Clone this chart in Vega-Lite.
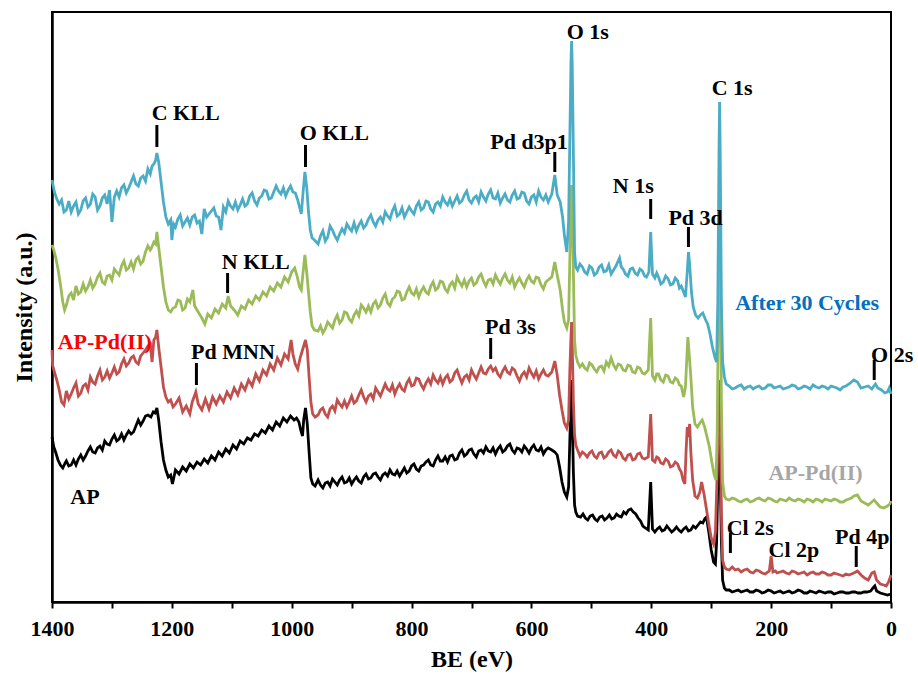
{
"$schema": "https://vega.github.io/schema/vega-lite/v6.json",
"width": 839, "height": 590,
"autosize": {"type": "none"},
"padding": {"left": 52, "top": 12, "right": 27, "bottom": 78},
"background": "white",
"config": {"view": {"stroke": "black", "strokeWidth": 2}, "font": "Liberation Serif"},
"datasets": {
"B": [{"e":1400,"v":422},{"e":1396,"v":410},{"e":1392,"v":403},{"e":1388,"v":398},{"e":1384,"v":402},{"e":1380,"v":390},{"e":1376,"v":392},{"e":1372,"v":401},{"e":1368,"v":390},{"e":1364,"v":396},{"e":1360,"v":400},{"e":1356,"v":388},{"e":1352,"v":392},{"e":1348,"v":401},{"e":1344,"v":404},{"e":1340,"v":395},{"e":1336,"v":398},{"e":1332,"v":408},{"e":1328,"v":405},{"e":1324,"v":392},{"e":1320,"v":396},{"e":1316,"v":404},{"e":1312,"v":407},{"e":1308,"v":398},{"e":1304,"v":412},{"e":1300,"v":380},{"e":1296,"v":405},{"e":1292,"v":411},{"e":1288,"v":405},{"e":1284,"v":414},{"e":1280,"v":417},{"e":1276,"v":409},{"e":1272,"v":414},{"e":1268,"v":420},{"e":1264,"v":426},{"e":1260,"v":418},{"e":1256,"v":416},{"e":1252,"v":424},{"e":1248,"v":426},{"e":1244,"v":421},{"e":1240,"v":433},{"e":1236,"v":428},{"e":1233,"v":436},{"e":1230,"v":438},{"e":1227,"v":442},{"e":1225,"v":449},{"e":1222,"v":440},{"e":1218,"v":420},{"e":1214,"v":400},{"e":1210,"v":385},{"e":1206,"v":378},{"e":1202,"v":382},{"e":1200,"v":362},{"e":1197,"v":378},{"e":1194,"v":375},{"e":1190,"v":383},{"e":1186,"v":387},{"e":1182,"v":376},{"e":1178,"v":380},{"e":1174,"v":384},{"e":1170,"v":377},{"e":1166,"v":385},{"e":1162,"v":387},{"e":1158,"v":379},{"e":1154,"v":381},{"e":1150,"v":368},{"e":1146,"v":393},{"e":1142,"v":385},{"e":1138,"v":388},{"e":1134,"v":391},{"e":1130,"v":394},{"e":1126,"v":386},{"e":1122,"v":385},{"e":1118,"v":372},{"e":1114,"v":395},{"e":1110,"v":390},{"e":1106,"v":401},{"e":1102,"v":396},{"e":1098,"v":393},{"e":1094,"v":400},{"e":1090,"v":392},{"e":1086,"v":397},{"e":1082,"v":403},{"e":1078,"v":396},{"e":1074,"v":398},{"e":1070,"v":406},{"e":1066,"v":409},{"e":1062,"v":401},{"e":1058,"v":397},{"e":1054,"v":404},{"e":1050,"v":406},{"e":1046,"v":412},{"e":1042,"v":411},{"e":1038,"v":403},{"e":1034,"v":404},{"e":1030,"v":410},{"e":1026,"v":416},{"e":1022,"v":411},{"e":1018,"v":408},{"e":1014,"v":414},{"e":1010,"v":406},{"e":1006,"v":412},{"e":1002,"v":416},{"e":998,"v":410},{"e":994,"v":409},{"e":990,"v":402},{"e":987,"v":395},{"e":984,"v":388},{"e":981,"v":410},{"e":978,"v":430},{"e":975,"v":415},{"e":972,"v":390},{"e":969,"v":372},{"e":966,"v":364},{"e":962,"v":362},{"e":956,"v":358},{"e":952,"v":366},{"e":948,"v":371},{"e":944,"v":361},{"e":940,"v":365},{"e":936,"v":376},{"e":932,"v":372},{"e":928,"v":366},{"e":924,"v":362},{"e":920,"v":368},{"e":916,"v":373},{"e":912,"v":369},{"e":908,"v":378},{"e":904,"v":374},{"e":900,"v":371},{"e":896,"v":379},{"e":892,"v":371},{"e":888,"v":377},{"e":884,"v":381},{"e":880,"v":374},{"e":876,"v":377},{"e":872,"v":383},{"e":868,"v":387},{"e":864,"v":380},{"e":860,"v":376},{"e":856,"v":382},{"e":852,"v":385},{"e":848,"v":380},{"e":844,"v":390},{"e":840,"v":386},{"e":836,"v":383},{"e":832,"v":391},{"e":828,"v":396},{"e":824,"v":386},{"e":820,"v":388},{"e":816,"v":394},{"e":812,"v":385},{"e":808,"v":390},{"e":804,"v":395},{"e":800,"v":391},{"e":796,"v":388},{"e":792,"v":396},{"e":788,"v":400},{"e":784,"v":392},{"e":780,"v":394},{"e":776,"v":401},{"e":772,"v":400},{"e":768,"v":393},{"e":764,"v":390},{"e":760,"v":398},{"e":756,"v":400},{"e":752,"v":396},{"e":748,"v":405},{"e":744,"v":400},{"e":740,"v":397},{"e":736,"v":403},{"e":732,"v":396},{"e":728,"v":401},{"e":724,"v":406},{"e":720,"v":399},{"e":716,"v":401},{"e":712,"v":407},{"e":708,"v":411},{"e":704,"v":402},{"e":700,"v":399},{"e":696,"v":404},{"e":692,"v":406},{"e":688,"v":400},{"e":684,"v":410},{"e":680,"v":405},{"e":676,"v":401},{"e":672,"v":408},{"e":668,"v":412},{"e":664,"v":404},{"e":660,"v":403},{"e":656,"v":409},{"e":652,"v":399},{"e":648,"v":404},{"e":644,"v":408},{"e":640,"v":402},{"e":636,"v":400},{"e":632,"v":407},{"e":628,"v":411},{"e":624,"v":403},{"e":620,"v":404},{"e":616,"v":410},{"e":612,"v":409},{"e":608,"v":401},{"e":604,"v":398},{"e":600,"v":405},{"e":596,"v":407},{"e":592,"v":400},{"e":588,"v":411},{"e":584,"v":405},{"e":580,"v":402},{"e":576,"v":407},{"e":572,"v":400},{"e":566,"v":408},{"e":561,"v":427},{"e":557,"v":407},{"e":552,"v":400},{"e":548,"v":385},{"e":545,"v":367},{"e":541,"v":350},{"e":538,"v":380},{"e":536,"v":460},{"e":534,"v":540},{"e":533,"v":561},{"e":532,"v":540},{"e":530,"v":450},{"e":528,"v":350},{"e":526,"v":335},{"e":523,"v":332},{"e":519,"v":338},{"e":515,"v":335},{"e":511,"v":330},{"e":507,"v":328},{"e":503,"v":336},{"e":499,"v":334},{"e":495,"v":327},{"e":491,"v":329},{"e":487,"v":335},{"e":483,"v":337},{"e":479,"v":330},{"e":475,"v":331},{"e":471,"v":337},{"e":467,"v":328},{"e":463,"v":332},{"e":459,"v":336},{"e":453,"v":344},{"e":450,"v":335},{"e":447,"v":333},{"e":443,"v":328},{"e":439,"v":326},{"e":435,"v":333},{"e":431,"v":334},{"e":427,"v":329},{"e":423,"v":327},{"e":419,"v":333},{"e":415,"v":331},{"e":411,"v":326},{"e":408,"v":325},{"e":404,"v":330},{"e":401,"v":370},{"e":398,"v":328},{"e":394,"v":324},{"e":391,"v":329},{"e":388,"v":325},{"e":384,"v":318},{"e":380,"v":320},{"e":376,"v":326},{"e":372,"v":323},{"e":368,"v":317},{"e":364,"v":318},{"e":360,"v":324},{"e":356,"v":321},{"e":353,"v":314},{"e":350,"v":316},{"e":346,"v":310},{"e":343,"v":305},{"e":340,"v":330},{"e":338,"v":350},{"e":336,"v":338},{"e":333,"v":310},{"e":330,"v":295},{"e":326,"v":287},{"e":322,"v":284},{"e":318,"v":287},{"e":314,"v":289},{"e":310,"v":283},{"e":306,"v":278},{"e":302,"v":268},{"e":298,"v":255},{"e":294,"v":245},{"e":291,"v":240},{"e":289,"v":300},{"e":287,"v":450},{"e":286,"v":500},{"e":285,"v":450},{"e":283,"v":300},{"e":281,"v":240},{"e":278,"v":225},{"e":275,"v":218},{"e":270,"v":216},{"e":265,"v":213},{"e":260,"v":214},{"e":255,"v":216},{"e":250,"v":217},{"e":245,"v":213},{"e":240,"v":215},{"e":235,"v":216},{"e":230,"v":213},{"e":225,"v":215},{"e":220,"v":216},{"e":215,"v":213},{"e":210,"v":214},{"e":205,"v":217},{"e":200,"v":217},{"e":195,"v":214},{"e":190,"v":215},{"e":185,"v":216},{"e":180,"v":213},{"e":175,"v":214},{"e":170,"v":215},{"e":165,"v":217},{"e":160,"v":216},{"e":155,"v":213},{"e":150,"v":214},{"e":145,"v":216},{"e":140,"v":215},{"e":135,"v":213},{"e":130,"v":217},{"e":125,"v":215},{"e":120,"v":214},{"e":115,"v":216},{"e":110,"v":215},{"e":105,"v":213},{"e":100,"v":216},{"e":95,"v":215},{"e":90,"v":214},{"e":85,"v":212},{"e":80,"v":215},{"e":75,"v":216},{"e":70,"v":218},{"e":66,"v":220},{"e":62,"v":222},{"e":56,"v":220},{"e":50,"v":214},{"e":44,"v":215},{"e":38,"v":216},{"e":32,"v":213},{"e":26,"v":218},{"e":22,"v":214},{"e":16,"v":212},{"e":10,"v":209},{"e":6,"v":210},{"e":3,"v":214},{"e":0,"v":208}],
"G": [{"e":1400,"v":357},{"e":1397,"v":352},{"e":1394,"v":345},{"e":1390,"v":333},{"e":1386,"v":318},{"e":1382,"v":300},{"e":1379,"v":292},{"e":1376,"v":297},{"e":1372,"v":306},{"e":1368,"v":309},{"e":1364,"v":302},{"e":1360,"v":316},{"e":1356,"v":308},{"e":1352,"v":310},{"e":1348,"v":318},{"e":1344,"v":311},{"e":1340,"v":315},{"e":1336,"v":322},{"e":1332,"v":314},{"e":1328,"v":318},{"e":1324,"v":325},{"e":1320,"v":329},{"e":1316,"v":320},{"e":1312,"v":318},{"e":1308,"v":326},{"e":1304,"v":327},{"e":1300,"v":322},{"e":1296,"v":333},{"e":1292,"v":330},{"e":1288,"v":327},{"e":1284,"v":336},{"e":1280,"v":341},{"e":1276,"v":332},{"e":1272,"v":334},{"e":1268,"v":340},{"e":1264,"v":333},{"e":1260,"v":342},{"e":1256,"v":345},{"e":1252,"v":338},{"e":1248,"v":341},{"e":1244,"v":350},{"e":1240,"v":356},{"e":1236,"v":352},{"e":1234,"v":354},{"e":1230,"v":360},{"e":1227,"v":358},{"e":1225,"v":370},{"e":1222,"v":355},{"e":1218,"v":335},{"e":1214,"v":315},{"e":1210,"v":300},{"e":1206,"v":292},{"e":1202,"v":290},{"e":1198,"v":294},{"e":1194,"v":295},{"e":1190,"v":302},{"e":1186,"v":301},{"e":1182,"v":292},{"e":1178,"v":294},{"e":1174,"v":303},{"e":1170,"v":300},{"e":1165,"v":312},{"e":1162,"v":296},{"e":1156,"v":290},{"e":1150,"v":284},{"e":1145,"v":278},{"e":1140,"v":288},{"e":1134,"v":284},{"e":1128,"v":293},{"e":1122,"v":289},{"e":1116,"v":298},{"e":1110,"v":294},{"e":1106,"v":306},{"e":1102,"v":296},{"e":1096,"v":292},{"e":1090,"v":287},{"e":1084,"v":296},{"e":1078,"v":293},{"e":1072,"v":302},{"e":1066,"v":298},{"e":1060,"v":306},{"e":1054,"v":302},{"e":1048,"v":310},{"e":1042,"v":306},{"e":1036,"v":315},{"e":1030,"v":311},{"e":1024,"v":319},{"e":1018,"v":315},{"e":1012,"v":325},{"e":1006,"v":320},{"e":1000,"v":330},{"e":995,"v":334},{"e":991,"v":326},{"e":987,"v":315},{"e":984,"v":312},{"e":981,"v":330},{"e":978,"v":347},{"e":975,"v":330},{"e":972,"v":310},{"e":969,"v":290},{"e":966,"v":276},{"e":962,"v":272},{"e":956,"v":271},{"e":952,"v":276},{"e":948,"v":269},{"e":944,"v":273},{"e":940,"v":280},{"e":936,"v":277},{"e":932,"v":274},{"e":928,"v":282},{"e":924,"v":287},{"e":920,"v":279},{"e":916,"v":282},{"e":912,"v":290},{"e":908,"v":289},{"e":904,"v":283},{"e":900,"v":280},{"e":896,"v":287},{"e":892,"v":291},{"e":888,"v":286},{"e":884,"v":297},{"e":880,"v":294},{"e":876,"v":290},{"e":872,"v":296},{"e":868,"v":290},{"e":864,"v":298},{"e":860,"v":301},{"e":856,"v":294},{"e":852,"v":297},{"e":848,"v":304},{"e":844,"v":308},{"e":840,"v":299},{"e":836,"v":296},{"e":832,"v":303},{"e":828,"v":305},{"e":824,"v":311},{"e":820,"v":310},{"e":816,"v":302},{"e":812,"v":303},{"e":808,"v":310},{"e":804,"v":315},{"e":800,"v":309},{"e":796,"v":307},{"e":792,"v":313},{"e":788,"v":305},{"e":784,"v":311},{"e":780,"v":315},{"e":776,"v":310},{"e":772,"v":308},{"e":768,"v":316},{"e":764,"v":320},{"e":760,"v":312},{"e":756,"v":314},{"e":752,"v":321},{"e":748,"v":320},{"e":744,"v":313},{"e":740,"v":310},{"e":736,"v":317},{"e":732,"v":320},{"e":728,"v":314},{"e":724,"v":325},{"e":720,"v":320},{"e":716,"v":316},{"e":712,"v":322},{"e":708,"v":315},{"e":704,"v":321},{"e":700,"v":324},{"e":696,"v":317},{"e":692,"v":319},{"e":688,"v":325},{"e":684,"v":328},{"e":680,"v":321},{"e":676,"v":316},{"e":672,"v":322},{"e":668,"v":323},{"e":664,"v":318},{"e":660,"v":327},{"e":656,"v":322},{"e":652,"v":318},{"e":648,"v":324},{"e":644,"v":328},{"e":640,"v":322},{"e":636,"v":319},{"e":632,"v":325},{"e":628,"v":315},{"e":624,"v":320},{"e":620,"v":324},{"e":616,"v":319},{"e":612,"v":315},{"e":608,"v":322},{"e":604,"v":326},{"e":600,"v":321},{"e":596,"v":319},{"e":592,"v":325},{"e":588,"v":324},{"e":584,"v":317},{"e":580,"v":313},{"e":576,"v":320},{"e":572,"v":322},{"e":566,"v":325},{"e":561,"v":340},{"e":557,"v":327},{"e":552,"v":312},{"e":548,"v":292},{"e":545,"v":280},{"e":541,"v":274},{"e":538,"v":282},{"e":536,"v":340},{"e":534,"v":400},{"e":533,"v":417},{"e":532,"v":400},{"e":530,"v":330},{"e":528,"v":262},{"e":526,"v":247},{"e":523,"v":240},{"e":519,"v":235},{"e":515,"v":238},{"e":511,"v":234},{"e":507,"v":232},{"e":503,"v":239},{"e":499,"v":237},{"e":495,"v":233},{"e":491,"v":230},{"e":487,"v":235},{"e":483,"v":236},{"e":479,"v":231},{"e":475,"v":240},{"e":471,"v":236},{"e":467,"v":244},{"e":463,"v":237},{"e":459,"v":233},{"e":455,"v":238},{"e":451,"v":237},{"e":447,"v":232},{"e":443,"v":231},{"e":439,"v":237},{"e":435,"v":236},{"e":431,"v":230},{"e":427,"v":229},{"e":423,"v":235},{"e":419,"v":234},{"e":415,"v":229},{"e":411,"v":228},{"e":405,"v":232},{"e":401,"v":284},{"e":398,"v":226},{"e":394,"v":222},{"e":391,"v":228},{"e":388,"v":228},{"e":384,"v":222},{"e":380,"v":220},{"e":376,"v":227},{"e":372,"v":226},{"e":368,"v":220},{"e":364,"v":219},{"e":360,"v":224},{"e":356,"v":222},{"e":353,"v":217},{"e":350,"v":216},{"e":346,"v":205},{"e":343,"v":215},{"e":341,"v":240},{"e":339,"v":265},{"e":337,"v":250},{"e":334,"v":225},{"e":331,"v":195},{"e":327,"v":178},{"e":323,"v":175},{"e":319,"v":179},{"e":315,"v":182},{"e":311,"v":175},{"e":307,"v":165},{"e":303,"v":155},{"e":299,"v":140},{"e":295,"v":127},{"e":292,"v":122},{"e":290,"v":170},{"e":288,"v":300},{"e":286,"v":402},{"e":285,"v":350},{"e":283,"v":200},{"e":281,"v":120},{"e":278,"v":106},{"e":275,"v":103},{"e":270,"v":102},{"e":265,"v":104},{"e":260,"v":103},{"e":255,"v":101},{"e":250,"v":100},{"e":245,"v":102},{"e":240,"v":103},{"e":235,"v":100},{"e":230,"v":101},{"e":225,"v":103},{"e":220,"v":104},{"e":215,"v":102},{"e":210,"v":101},{"e":205,"v":104},{"e":200,"v":103},{"e":195,"v":101},{"e":190,"v":100},{"e":185,"v":103},{"e":180,"v":102},{"e":175,"v":101},{"e":170,"v":104},{"e":165,"v":102},{"e":160,"v":101},{"e":155,"v":103},{"e":150,"v":102},{"e":145,"v":100},{"e":140,"v":103},{"e":135,"v":102},{"e":130,"v":100},{"e":125,"v":103},{"e":120,"v":102},{"e":115,"v":100},{"e":110,"v":103},{"e":105,"v":102},{"e":100,"v":101},{"e":95,"v":103},{"e":90,"v":102},{"e":85,"v":100},{"e":80,"v":100},{"e":75,"v":102},{"e":70,"v":103},{"e":66,"v":104},{"e":62,"v":106},{"e":56,"v":107},{"e":50,"v":101},{"e":44,"v":99},{"e":38,"v":97},{"e":32,"v":100},{"e":28,"v":102},{"e":24,"v":99},{"e":18,"v":95},{"e":12,"v":94},{"e":6,"v":96},{"e":2,"v":98},{"e":0,"v":101}],
"R": [{"e":1400,"v":252},{"e":1399,"v":237},{"e":1396,"v":230},{"e":1392,"v":222},{"e":1388,"v":212},{"e":1384,"v":200},{"e":1380,"v":197},{"e":1376,"v":211},{"e":1372,"v":203},{"e":1368,"v":208},{"e":1364,"v":214},{"e":1360,"v":219},{"e":1356,"v":206},{"e":1352,"v":209},{"e":1348,"v":216},{"e":1344,"v":218},{"e":1340,"v":212},{"e":1336,"v":225},{"e":1332,"v":220},{"e":1328,"v":218},{"e":1324,"v":226},{"e":1320,"v":232},{"e":1316,"v":222},{"e":1312,"v":225},{"e":1308,"v":231},{"e":1304,"v":224},{"e":1300,"v":229},{"e":1296,"v":235},{"e":1292,"v":228},{"e":1288,"v":230},{"e":1284,"v":238},{"e":1280,"v":243},{"e":1276,"v":236},{"e":1272,"v":239},{"e":1268,"v":244},{"e":1264,"v":246},{"e":1260,"v":240},{"e":1256,"v":238},{"e":1252,"v":246},{"e":1248,"v":249},{"e":1244,"v":252},{"e":1240,"v":256},{"e":1236,"v":258},{"e":1233,"v":240},{"e":1230,"v":262},{"e":1227,"v":265},{"e":1225,"v":272},{"e":1222,"v":255},{"e":1218,"v":235},{"e":1214,"v":215},{"e":1210,"v":205},{"e":1206,"v":200},{"e":1202,"v":202},{"e":1198,"v":195},{"e":1194,"v":198},{"e":1188,"v":204},{"e":1182,"v":190},{"e":1176,"v":196},{"e":1170,"v":188},{"e":1166,"v":200},{"e":1160,"v":210},{"e":1156,"v":198},{"e":1150,"v":192},{"e":1144,"v":203},{"e":1138,"v":193},{"e":1132,"v":205},{"e":1126,"v":198},{"e":1120,"v":206},{"e":1114,"v":200},{"e":1108,"v":210},{"e":1102,"v":204},{"e":1096,"v":214},{"e":1090,"v":207},{"e":1084,"v":218},{"e":1078,"v":212},{"e":1072,"v":222},{"e":1066,"v":216},{"e":1060,"v":228},{"e":1054,"v":221},{"e":1048,"v":232},{"e":1042,"v":227},{"e":1036,"v":238},{"e":1030,"v":232},{"e":1024,"v":244},{"e":1018,"v":237},{"e":1012,"v":248},{"e":1006,"v":243},{"e":1001,"v":262},{"e":998,"v":248},{"e":994,"v":238},{"e":990,"v":233},{"e":986,"v":244},{"e":982,"v":252},{"e":979,"v":258},{"e":977,"v":262},{"e":974,"v":252},{"e":971,"v":225},{"e":968,"v":200},{"e":965,"v":188},{"e":961,"v":185},{"e":956,"v":187},{"e":952,"v":192},{"e":948,"v":194},{"e":944,"v":188},{"e":940,"v":185},{"e":936,"v":193},{"e":932,"v":196},{"e":928,"v":191},{"e":924,"v":202},{"e":920,"v":198},{"e":916,"v":195},{"e":912,"v":201},{"e":908,"v":195},{"e":904,"v":200},{"e":900,"v":206},{"e":896,"v":199},{"e":892,"v":201},{"e":888,"v":207},{"e":884,"v":212},{"e":880,"v":205},{"e":876,"v":200},{"e":872,"v":206},{"e":868,"v":208},{"e":864,"v":203},{"e":860,"v":214},{"e":856,"v":210},{"e":852,"v":206},{"e":848,"v":212},{"e":844,"v":218},{"e":840,"v":213},{"e":836,"v":211},{"e":832,"v":217},{"e":828,"v":208},{"e":824,"v":214},{"e":820,"v":218},{"e":816,"v":213},{"e":812,"v":211},{"e":808,"v":219},{"e":804,"v":223},{"e":800,"v":216},{"e":796,"v":217},{"e":792,"v":224},{"e":788,"v":223},{"e":784,"v":217},{"e":780,"v":213},{"e":776,"v":219},{"e":772,"v":223},{"e":768,"v":218},{"e":764,"v":227},{"e":760,"v":222},{"e":756,"v":219},{"e":752,"v":225},{"e":748,"v":218},{"e":744,"v":224},{"e":740,"v":227},{"e":736,"v":220},{"e":732,"v":222},{"e":728,"v":229},{"e":724,"v":232},{"e":720,"v":225},{"e":716,"v":219},{"e":712,"v":225},{"e":708,"v":227},{"e":704,"v":222},{"e":700,"v":232},{"e":696,"v":227},{"e":692,"v":223},{"e":688,"v":229},{"e":684,"v":235},{"e":680,"v":229},{"e":676,"v":228},{"e":672,"v":233},{"e":668,"v":236},{"e":664,"v":231},{"e":660,"v":234},{"e":656,"v":228},{"e":652,"v":225},{"e":648,"v":231},{"e":644,"v":235},{"e":640,"v":230},{"e":636,"v":228},{"e":632,"v":234},{"e":628,"v":232},{"e":624,"v":226},{"e":620,"v":221},{"e":616,"v":227},{"e":612,"v":230},{"e":608,"v":225},{"e":604,"v":234},{"e":600,"v":229},{"e":596,"v":225},{"e":592,"v":231},{"e":588,"v":223},{"e":584,"v":228},{"e":580,"v":232},{"e":576,"v":227},{"e":572,"v":226},{"e":566,"v":230},{"e":561,"v":241},{"e":557,"v":227},{"e":553,"v":207},{"e":549,"v":192},{"e":545,"v":179},{"e":541,"v":174},{"e":538,"v":182},{"e":536,"v":230},{"e":534,"v":265},{"e":533,"v":280},{"e":532,"v":260},{"e":530,"v":200},{"e":528,"v":167},{"e":526,"v":157},{"e":523,"v":152},{"e":519,"v":146},{"e":515,"v":150},{"e":511,"v":148},{"e":507,"v":145},{"e":503,"v":149},{"e":499,"v":151},{"e":495,"v":146},{"e":491,"v":144},{"e":487,"v":149},{"e":483,"v":150},{"e":479,"v":144},{"e":475,"v":146},{"e":471,"v":150},{"e":467,"v":152},{"e":463,"v":147},{"e":459,"v":145},{"e":455,"v":151},{"e":451,"v":149},{"e":447,"v":144},{"e":443,"v":142},{"e":439,"v":147},{"e":435,"v":148},{"e":431,"v":142},{"e":427,"v":143},{"e":423,"v":148},{"e":419,"v":149},{"e":415,"v":144},{"e":411,"v":143},{"e":405,"v":145},{"e":401,"v":188},{"e":398,"v":142},{"e":394,"v":140},{"e":391,"v":145},{"e":388,"v":144},{"e":384,"v":139},{"e":380,"v":138},{"e":376,"v":143},{"e":372,"v":141},{"e":368,"v":135},{"e":364,"v":136},{"e":360,"v":140},{"e":356,"v":138},{"e":353,"v":133},{"e":350,"v":130},{"e":347,"v":122},{"e":344,"v":118},{"e":342,"v":150},{"e":340,"v":175},{"e":338,"v":165},{"e":336,"v":178},{"e":334,"v":150},{"e":331,"v":122},{"e":327,"v":106},{"e":323,"v":104},{"e":319,"v":110},{"e":316,"v":120},{"e":312,"v":108},{"e":308,"v":93},{"e":304,"v":78},{"e":300,"v":64},{"e":296,"v":58},{"e":293,"v":70},{"e":290,"v":130},{"e":288,"v":200},{"e":286,"v":222},{"e":285,"v":180},{"e":283,"v":90},{"e":281,"v":42},{"e":278,"v":35},{"e":275,"v":33},{"e":270,"v":32},{"e":265,"v":35},{"e":260,"v":32},{"e":255,"v":33},{"e":250,"v":30},{"e":245,"v":32},{"e":240,"v":33},{"e":235,"v":30},{"e":230,"v":29},{"e":225,"v":32},{"e":220,"v":31},{"e":215,"v":29},{"e":210,"v":28},{"e":203,"v":31},{"e":200,"v":46},{"e":197,"v":30},{"e":193,"v":31},{"e":190,"v":29},{"e":185,"v":30},{"e":180,"v":31},{"e":175,"v":29},{"e":170,"v":28},{"e":165,"v":31},{"e":160,"v":30},{"e":155,"v":28},{"e":150,"v":29},{"e":145,"v":30},{"e":140,"v":27},{"e":135,"v":29},{"e":130,"v":30},{"e":125,"v":28},{"e":120,"v":28},{"e":115,"v":30},{"e":110,"v":29},{"e":105,"v":27},{"e":100,"v":27},{"e":95,"v":29},{"e":90,"v":28},{"e":85,"v":27},{"e":80,"v":26},{"e":75,"v":28},{"e":70,"v":27},{"e":66,"v":28},{"e":62,"v":29},{"e":56,"v":31},{"e":50,"v":27},{"e":44,"v":24},{"e":38,"v":22},{"e":32,"v":29},{"e":28,"v":30},{"e":24,"v":22},{"e":18,"v":18},{"e":12,"v":17},{"e":8,"v":16},{"e":4,"v":20},{"e":0,"v":27}],
"K": [{"e":1400,"v":165},{"e":1397,"v":155},{"e":1394,"v":150},{"e":1390,"v":142},{"e":1386,"v":137},{"e":1382,"v":134},{"e":1378,"v":139},{"e":1376,"v":141},{"e":1372,"v":136},{"e":1368,"v":137},{"e":1364,"v":142},{"e":1360,"v":137},{"e":1356,"v":143},{"e":1352,"v":147},{"e":1348,"v":142},{"e":1344,"v":146},{"e":1340,"v":151},{"e":1336,"v":155},{"e":1332,"v":150},{"e":1328,"v":149},{"e":1324,"v":154},{"e":1320,"v":156},{"e":1316,"v":152},{"e":1312,"v":161},{"e":1308,"v":158},{"e":1304,"v":157},{"e":1300,"v":163},{"e":1296,"v":167},{"e":1292,"v":161},{"e":1288,"v":163},{"e":1284,"v":168},{"e":1280,"v":162},{"e":1276,"v":167},{"e":1272,"v":171},{"e":1268,"v":168},{"e":1264,"v":170},{"e":1260,"v":176},{"e":1256,"v":182},{"e":1252,"v":177},{"e":1248,"v":181},{"e":1244,"v":186},{"e":1240,"v":187},{"e":1235,"v":185},{"e":1231,"v":190},{"e":1228,"v":189},{"e":1225,"v":194},{"e":1222,"v":182},{"e":1218,"v":160},{"e":1214,"v":142},{"e":1210,"v":132},{"e":1206,"v":125},{"e":1202,"v":127},{"e":1199,"v":118},{"e":1194,"v":132},{"e":1188,"v":128},{"e":1182,"v":135},{"e":1176,"v":131},{"e":1170,"v":138},{"e":1164,"v":134},{"e":1158,"v":140},{"e":1152,"v":137},{"e":1146,"v":143},{"e":1140,"v":139},{"e":1134,"v":146},{"e":1128,"v":142},{"e":1122,"v":150},{"e":1116,"v":146},{"e":1110,"v":153},{"e":1104,"v":149},{"e":1098,"v":157},{"e":1092,"v":153},{"e":1086,"v":161},{"e":1080,"v":158},{"e":1074,"v":164},{"e":1068,"v":162},{"e":1062,"v":168},{"e":1056,"v":166},{"e":1050,"v":172},{"e":1044,"v":169},{"e":1038,"v":176},{"e":1032,"v":172},{"e":1026,"v":180},{"e":1020,"v":176},{"e":1014,"v":184},{"e":1008,"v":180},{"e":1002,"v":186},{"e":996,"v":182},{"e":992,"v":184},{"e":988,"v":180},{"e":985,"v":172},{"e":982,"v":166},{"e":980,"v":182},{"e":977,"v":194},{"e":974,"v":178},{"e":971,"v":150},{"e":968,"v":124},{"e":965,"v":118},{"e":961,"v":116},{"e":956,"v":122},{"e":952,"v":117},{"e":948,"v":114},{"e":944,"v":119},{"e":940,"v":120},{"e":936,"v":116},{"e":932,"v":123},{"e":928,"v":120},{"e":924,"v":117},{"e":920,"v":122},{"e":916,"v":125},{"e":912,"v":119},{"e":908,"v":120},{"e":904,"v":124},{"e":900,"v":118},{"e":896,"v":122},{"e":892,"v":125},{"e":888,"v":121},{"e":884,"v":119},{"e":880,"v":125},{"e":876,"v":128},{"e":872,"v":123},{"e":868,"v":124},{"e":864,"v":128},{"e":860,"v":129},{"e":856,"v":125},{"e":852,"v":122},{"e":848,"v":127},{"e":844,"v":129},{"e":840,"v":126},{"e":836,"v":132},{"e":832,"v":128},{"e":828,"v":127},{"e":824,"v":131},{"e":820,"v":126},{"e":816,"v":130},{"e":812,"v":134},{"e":808,"v":129},{"e":804,"v":131},{"e":800,"v":136},{"e":796,"v":138},{"e":792,"v":133},{"e":788,"v":131},{"e":784,"v":136},{"e":780,"v":137},{"e":776,"v":140},{"e":772,"v":142},{"e":768,"v":137},{"e":764,"v":136},{"e":760,"v":142},{"e":756,"v":146},{"e":752,"v":141},{"e":748,"v":141},{"e":744,"v":145},{"e":740,"v":140},{"e":736,"v":146},{"e":732,"v":147},{"e":728,"v":142},{"e":724,"v":143},{"e":720,"v":149},{"e":716,"v":152},{"e":712,"v":146},{"e":708,"v":148},{"e":704,"v":152},{"e":700,"v":153},{"e":696,"v":148},{"e":692,"v":145},{"e":688,"v":151},{"e":684,"v":152},{"e":680,"v":149},{"e":676,"v":155},{"e":672,"v":151},{"e":668,"v":150},{"e":664,"v":154},{"e":660,"v":148},{"e":656,"v":153},{"e":652,"v":156},{"e":648,"v":150},{"e":644,"v":152},{"e":640,"v":156},{"e":636,"v":158},{"e":632,"v":152},{"e":628,"v":149},{"e":624,"v":154},{"e":620,"v":153},{"e":616,"v":150},{"e":612,"v":156},{"e":608,"v":153},{"e":604,"v":149},{"e":600,"v":154},{"e":596,"v":157},{"e":592,"v":152},{"e":588,"v":151},{"e":584,"v":155},{"e":580,"v":148},{"e":576,"v":152},{"e":572,"v":154},{"e":566,"v":152},{"e":561,"v":150},{"e":557,"v":147},{"e":553,"v":135},{"e":549,"v":120},{"e":545,"v":110},{"e":541,"v":105},{"e":538,"v":115},{"e":536,"v":160},{"e":534,"v":200},{"e":533,"v":222},{"e":532,"v":190},{"e":530,"v":130},{"e":528,"v":97},{"e":526,"v":90},{"e":523,"v":86},{"e":518,"v":85},{"e":514,"v":88},{"e":510,"v":84},{"e":506,"v":82},{"e":502,"v":86},{"e":498,"v":87},{"e":494,"v":83},{"e":490,"v":81},{"e":486,"v":85},{"e":482,"v":86},{"e":478,"v":82},{"e":474,"v":84},{"e":470,"v":87},{"e":466,"v":83},{"e":462,"v":84},{"e":458,"v":88},{"e":454,"v":86},{"e":450,"v":85},{"e":446,"v":90},{"e":442,"v":88},{"e":438,"v":92},{"e":434,"v":93},{"e":430,"v":90},{"e":426,"v":88},{"e":422,"v":84},{"e":418,"v":81},{"e":414,"v":76},{"e":410,"v":74},{"e":405,"v":72},{"e":401,"v":120},{"e":398,"v":73},{"e":394,"v":70},{"e":390,"v":73},{"e":386,"v":75},{"e":382,"v":71},{"e":378,"v":72},{"e":374,"v":76},{"e":370,"v":73},{"e":366,"v":70},{"e":362,"v":72},{"e":358,"v":75},{"e":354,"v":72},{"e":350,"v":70},{"e":346,"v":73},{"e":342,"v":75},{"e":338,"v":71},{"e":334,"v":72},{"e":330,"v":76},{"e":326,"v":74},{"e":322,"v":77},{"e":318,"v":80},{"e":314,"v":79},{"e":311,"v":83},{"e":308,"v":85},{"e":304,"v":70},{"e":300,"v":52},{"e":296,"v":40},{"e":293,"v":38},{"e":291,"v":60},{"e":289,"v":120},{"e":287,"v":160},{"e":286,"v":172},{"e":285,"v":130},{"e":283,"v":60},{"e":281,"v":22},{"e":278,"v":14},{"e":275,"v":12},{"e":270,"v":12},{"e":265,"v":10},{"e":260,"v":11},{"e":255,"v":12},{"e":250,"v":10},{"e":245,"v":11},{"e":240,"v":12},{"e":235,"v":10},{"e":230,"v":10},{"e":225,"v":12},{"e":220,"v":11},{"e":215,"v":9},{"e":210,"v":10},{"e":205,"v":12},{"e":200,"v":11},{"e":195,"v":9},{"e":190,"v":10},{"e":185,"v":11},{"e":180,"v":9},{"e":175,"v":10},{"e":170,"v":11},{"e":165,"v":9},{"e":160,"v":10},{"e":155,"v":12},{"e":150,"v":11},{"e":145,"v":9},{"e":140,"v":9},{"e":135,"v":11},{"e":130,"v":10},{"e":125,"v":9},{"e":120,"v":11},{"e":115,"v":10},{"e":110,"v":9},{"e":105,"v":10},{"e":100,"v":10},{"e":95,"v":8},{"e":90,"v":9},{"e":85,"v":10},{"e":80,"v":10},{"e":75,"v":9},{"e":70,"v":9},{"e":65,"v":10},{"e":60,"v":10},{"e":55,"v":9},{"e":50,"v":9},{"e":45,"v":10},{"e":40,"v":10},{"e":34,"v":11},{"e":30,"v":14},{"e":27,"v":16},{"e":24,"v":11},{"e":18,"v":9},{"e":12,"v":8},{"e":6,"v":7},{"e":0,"v":8}],
"ann": [
{"t":"C KLL","e":1177,"v":489,"g":"k"},
{"t":"O KLL","e":929,"v":469,"g":"k"},
{"t":"N KLL","e":1060,"v":340,"g":"k"},
{"t":"Pd MNN","e":1098,"v":250,"g":"k"},
{"t":"AP-Pd(II)","e":1312,"v":260,"g":"r"},
{"t":"AP","e":1345,"v":105,"g":"k"},
{"t":"Pd d3p1","e":604,"v":460,"g":"k"},
{"t":"O 1s","e":506,"v":570,"g":"k"},
{"t":"N 1s","e":430,"v":416,"g":"k"},
{"t":"Pd 3d","e":326,"v":384,"g":"k"},
{"t":"C 1s","e":265,"v":514,"g":"k"},
{"t":"After 30 Cycles","e":140,"v":299,"g":"b"},
{"t":"O 2s","e":-2,"v":247,"g":"k"},
{"t":"AP-Pd(II)","e":126,"v":129,"g":"y"},
{"t":"Pd 3s","e":635,"v":275,"g":"k"},
{"t":"Cl 2s","e":235,"v":74,"g":"k"},
{"t":"Cl 2p","e":162,"v":52,"g":"k"},
{"t":"Pd 4p","e":48,"v":65,"g":"k"}
],
"bars": [
{"e":1225,"v":477,"v2":455},
{"e":977,"v":457,"v2":435},
{"e":1107,"v":329,"v2":309},
{"e":1159,"v":239,"v2":217},
{"e":561,"v":450,"v2":430},
{"e":401,"v":403,"v2":383},
{"e":338,"v":375,"v2":355},
{"e":28,"v":242,"v2":222},
{"e":668,"v":264,"v2":243},
{"e":268,"v":69,"v2":49},
{"e":58,"v":56,"v2":35}
]
},
"encoding": {
"x": {"field": "e", "type": "quantitative",
 "scale": {"domain": [0, 1400], "reverse": true, "nice": false},
 "axis": {"values": [0,100,200,300,400,500,600,700,800,900,1000,1100,1200,1300,1400], "format": "d",
  "labelExpr": "datum.value % 200 === 0 ? datum.label : ''",
  "title": "BE (eV)", "grid": false, "domainColor": "black", "domainWidth": 2.5,
  "tickColor": "black", "tickWidth": 2, "tickSize": 6,
  "labelFont": "Liberation Serif", "labelFontWeight": "bold", "labelFontSize": 22, "labelColor": "black",
  "labelPadding": 10, "labelFlush": false, "labelOverlap": false,
  "titleFont": "Liberation Serif", "titleFontWeight": "bold", "titleFontSize": 24, "titleColor": "black", "titlePadding": 8}},
"y": {"field": "v", "type": "quantitative",
 "scale": {"domain": [0, 590], "nice": false},
 "axis": {"title": "Intensity (a.u.)", "labels": false, "ticks": false, "grid": false,
  "domainColor": "black", "domainWidth": 2.5,
  "titleFont": "Liberation Serif", "titleFontWeight": "bold", "titleFontSize": 24, "titleColor": "black", "titlePadding": 16}}
},
"layer": [
{"data": {"name": "K"}, "mark": {"type": "line", "color": "black", "strokeWidth": 2.8}},
{"data": {"name": "R"}, "mark": {"type": "line", "color": "#C0504D", "strokeWidth": 2.8}},
{"data": {"name": "G"}, "mark": {"type": "line", "color": "#9BBB59", "strokeWidth": 2.8}},
{"data": {"name": "B"}, "mark": {"type": "line", "color": "#4BACC6", "strokeWidth": 2.8}},
{"data": {"name": "bars"}, "mark": {"type": "rule", "color": "black", "strokeWidth": 3}, "encoding": {"y2": {"field": "v2"}}},
{"data": {"name": "ann"}, "mark": {"type": "text", "font": "Liberation Serif", "fontWeight": "bold", "fontSize": 22, "align": "center", "baseline": "middle"},
 "encoding": {"text": {"field": "t"}, "color": {"field": "g", "type": "nominal", "legend": null, "scale": {"domain": ["k","r","b","y"], "range": ["black","#FF0000","#0070C0","#A6A6A6"]}}}}
]
}
